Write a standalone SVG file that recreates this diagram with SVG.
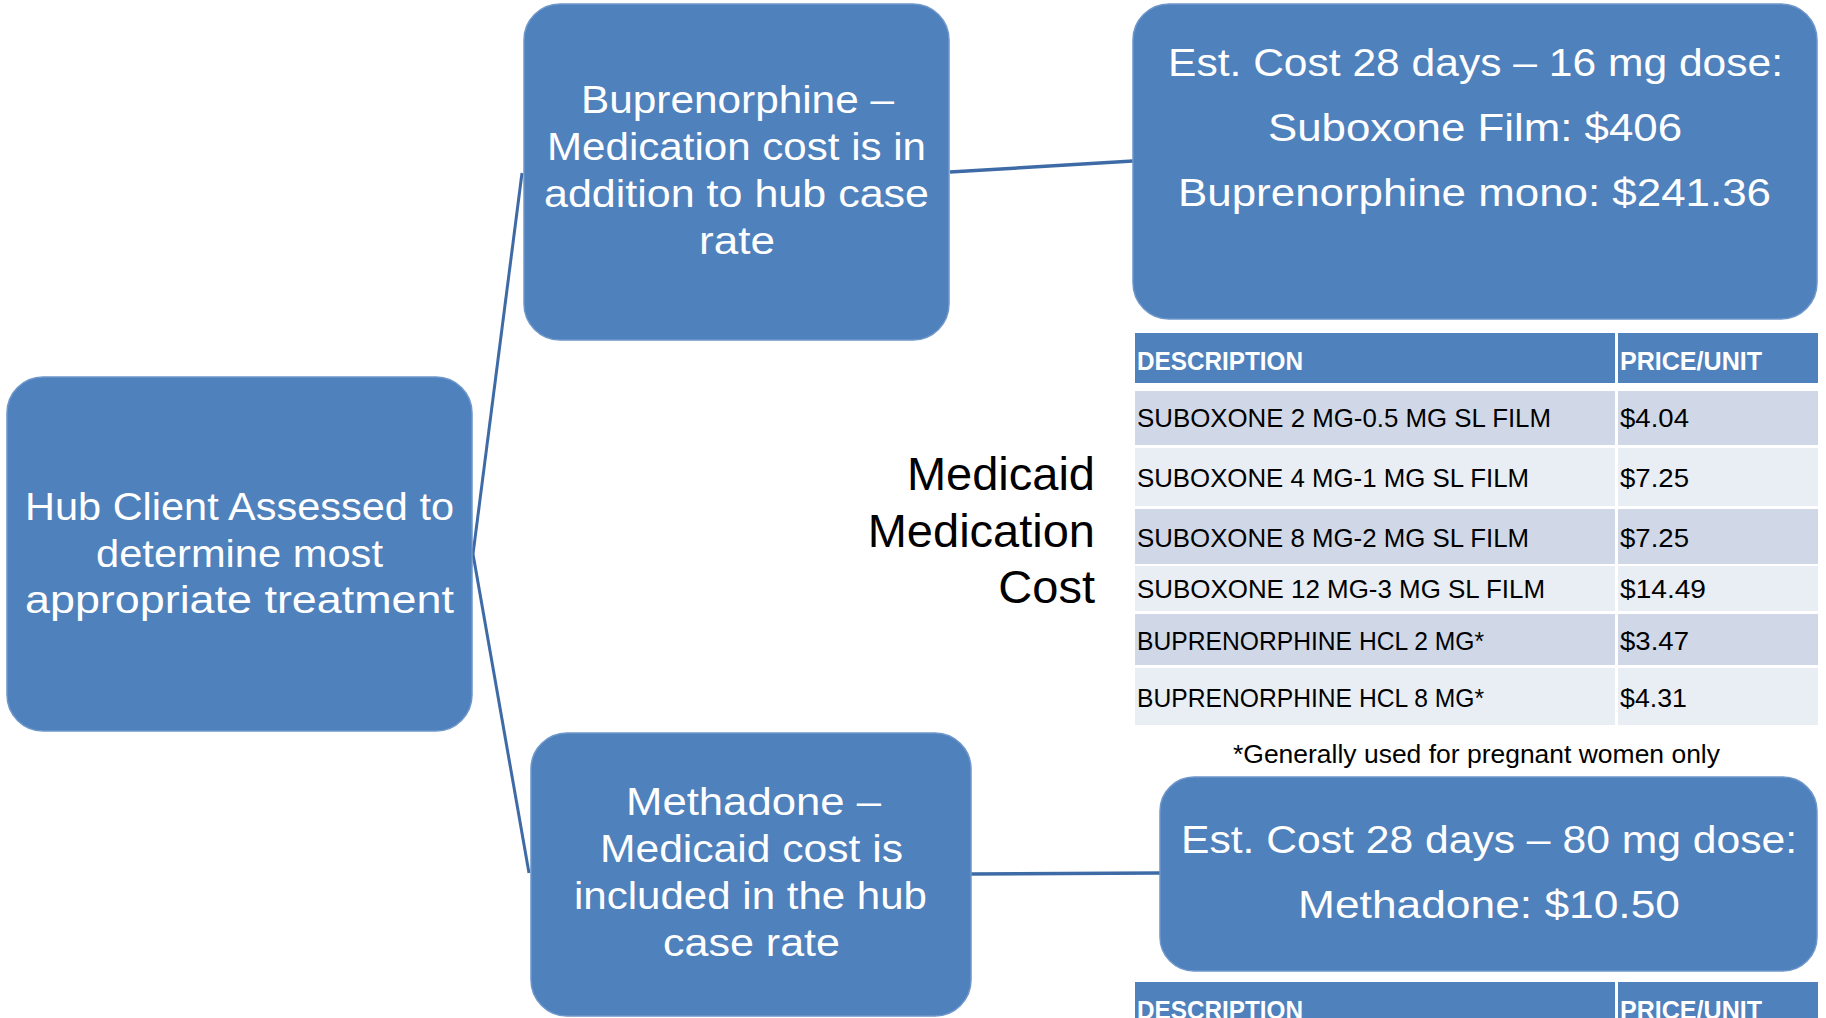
<svg xmlns="http://www.w3.org/2000/svg" width="1826" height="1018" viewBox="0 0 1826 1018">
<style>
.box{fill:#4F81BD;stroke:#6E97CA;stroke-width:1.5}
.wt{font-family:"Liberation Sans",Arial,sans-serif;fill:#FFFFFF;font-size:38px}
.lk{font-family:"Liberation Sans",Arial,sans-serif;fill:#000000}
.hdr{fill:#4F81BD}
.b1{fill:#D0D8E8}
.b2{fill:#E9EDF4}
.th{font-family:"Liberation Sans",Arial,sans-serif;fill:#FFFFFF;font-size:25px;font-weight:bold}
.td{font-family:"Liberation Sans",Arial,sans-serif;fill:#000000;font-size:26px}
.con{stroke:#3E6BA6;fill:none}
</style>
<rect width="1826" height="1018" fill="#FFFFFF"/>
<g id="connectors">
<line class="con" x1="473" y1="554" x2="522" y2="173" stroke-width="3"/>
<line class="con" x1="473" y1="554" x2="529" y2="873" stroke-width="3"/>
<line class="con" x1="950" y1="172" x2="1133" y2="161" stroke-width="3.5"/>
<line class="con" x1="971" y1="874" x2="1160" y2="873" stroke-width="3.5"/>
</g>
<g id="hub">
<rect class="box" x="7" y="377" width="465" height="354" rx="36" ry="36"/>
<text class="wt" x="25" y="520" textLength="429" lengthAdjust="spacingAndGlyphs">Hub Client Assessed to</text>
<text class="wt" x="96" y="567" textLength="287" lengthAdjust="spacingAndGlyphs">determine most</text>
<text class="wt" x="25" y="613" textLength="429" lengthAdjust="spacingAndGlyphs">appropriate treatment</text>
</g>
<g id="buprenorphine">
<rect class="box" x="524" y="4" width="425" height="336" rx="36" ry="36"/>
<text class="wt" x="581" y="113" textLength="313" lengthAdjust="spacingAndGlyphs">Buprenorphine –</text>
<text class="wt" x="547" y="160" textLength="379" lengthAdjust="spacingAndGlyphs">Medication cost is in</text>
<text class="wt" x="544" y="207" textLength="385" lengthAdjust="spacingAndGlyphs">addition to hub case</text>
<text class="wt" x="699" y="254" textLength="76" lengthAdjust="spacingAndGlyphs">rate</text>
</g>
<g id="methadone">
<rect class="box" x="531" y="733" width="440" height="283" rx="36" ry="36"/>
<text class="wt" x="626" y="815" textLength="255" lengthAdjust="spacingAndGlyphs">Methadone –</text>
<text class="wt" x="600" y="862" textLength="303" lengthAdjust="spacingAndGlyphs">Medicaid cost is</text>
<text class="wt" x="574" y="909" textLength="353" lengthAdjust="spacingAndGlyphs">included in the hub</text>
<text class="wt" x="663" y="956" textLength="177" lengthAdjust="spacingAndGlyphs">case rate</text>
</g>
<g id="bup-cost">
<rect class="box" x="1133" y="4" width="684" height="315" rx="36" ry="36"/>
<text class="wt" x="1168" y="76" textLength="615" lengthAdjust="spacingAndGlyphs">Est. Cost 28 days – 16 mg dose:</text>
<text class="wt" x="1268" y="141" textLength="414" lengthAdjust="spacingAndGlyphs">Suboxone Film:  $406</text>
<text class="wt" x="1178" y="206" textLength="593" lengthAdjust="spacingAndGlyphs">Buprenorphine mono:  $241.36</text>
</g>
<g id="methadone-cost">
<rect class="box" x="1160" y="777" width="657" height="194" rx="34" ry="34"/>
<text class="wt" x="1181" y="853" textLength="616" lengthAdjust="spacingAndGlyphs">Est. Cost 28 days – 80 mg dose:</text>
<text class="wt" x="1298" y="918" textLength="382" lengthAdjust="spacingAndGlyphs">Methadone: $10.50</text>
</g>
<g id="medicaid-label">
<text class="lk" font-size="47" text-anchor="end" x="1095" y="490">Medicaid</text>
<text class="lk" font-size="47" text-anchor="end" x="1095" y="547">Medication</text>
<text class="lk" font-size="47" text-anchor="end" x="1095" y="603">Cost</text>
</g>
<g id="price-table">
<rect class="hdr" x="1135" y="333" width="480" height="50"/>
<rect class="hdr" x="1618" y="333" width="200" height="50"/>
<text class="th" x="1137" y="370" textLength="166" lengthAdjust="spacingAndGlyphs">DESCRIPTION</text>
<text class="th" x="1620" y="370" textLength="142" lengthAdjust="spacingAndGlyphs">PRICE/UNIT</text>
<rect class="b1" x="1135" y="391" width="480" height="54"/>
<rect class="b1" x="1618" y="391" width="200" height="54"/>
<rect class="b2" x="1135" y="448" width="480" height="58"/>
<rect class="b2" x="1618" y="448" width="200" height="58"/>
<rect class="b1" x="1135" y="509" width="480" height="55"/>
<rect class="b1" x="1618" y="509" width="200" height="55"/>
<rect class="b2" x="1135" y="566" width="480" height="45"/>
<rect class="b2" x="1618" y="566" width="200" height="45"/>
<rect class="b1" x="1135" y="614" width="480" height="51"/>
<rect class="b1" x="1618" y="614" width="200" height="51"/>
<rect class="b2" x="1135" y="668" width="480" height="57"/>
<rect class="b2" x="1618" y="668" width="200" height="57"/>
<text class="td" x="1137" y="427" textLength="414" lengthAdjust="spacingAndGlyphs">SUBOXONE 2 MG-0.5 MG SL FILM</text>
<text class="td" x="1620" y="427" textLength="69" lengthAdjust="spacingAndGlyphs">$4.04</text>
<text class="td" x="1137" y="487" textLength="392" lengthAdjust="spacingAndGlyphs">SUBOXONE 4 MG-1 MG SL FILM</text>
<text class="td" x="1620" y="487" textLength="69" lengthAdjust="spacingAndGlyphs">$7.25</text>
<text class="td" x="1137" y="547" textLength="392" lengthAdjust="spacingAndGlyphs">SUBOXONE 8 MG-2 MG SL FILM</text>
<text class="td" x="1620" y="547" textLength="69" lengthAdjust="spacingAndGlyphs">$7.25</text>
<text class="td" x="1137" y="598" textLength="408" lengthAdjust="spacingAndGlyphs">SUBOXONE 12 MG-3 MG SL FILM</text>
<text class="td" x="1620" y="598" textLength="86" lengthAdjust="spacingAndGlyphs">$14.49</text>
<text class="td" x="1137" y="650" textLength="347" lengthAdjust="spacingAndGlyphs">BUPRENORPHINE HCL 2 MG*</text>
<text class="td" x="1620" y="650" textLength="69" lengthAdjust="spacingAndGlyphs">$3.47</text>
<text class="td" x="1137" y="707" textLength="347" lengthAdjust="spacingAndGlyphs">BUPRENORPHINE HCL 8 MG*</text>
<text class="td" x="1620" y="707" textLength="67" lengthAdjust="spacingAndGlyphs">$4.31</text>
</g>
<g id="footnote">
<text class="lk" font-size="25" x="1233" y="763" textLength="487" lengthAdjust="spacingAndGlyphs">*Generally used for pregnant women only</text>
</g>
<g id="price-table-2">
<rect class="hdr" x="1135" y="982" width="480" height="50"/>
<rect class="hdr" x="1618" y="982" width="200" height="50"/>
<text class="th" x="1137" y="1019" textLength="166" lengthAdjust="spacingAndGlyphs">DESCRIPTION</text>
<text class="th" x="1620" y="1019" textLength="142" lengthAdjust="spacingAndGlyphs">PRICE/UNIT</text>
</g>
</svg>
